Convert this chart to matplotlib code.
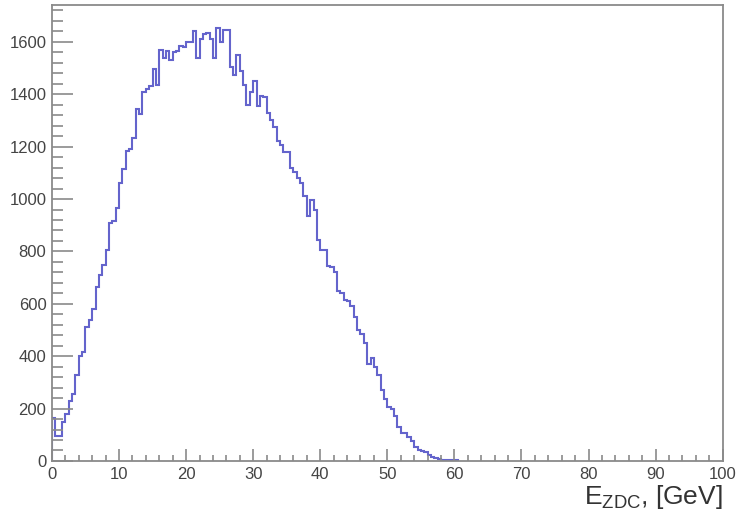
import numpy as np
import matplotlib.pyplot as plt
from matplotlib.ticker import MultipleLocator

plt.rcParams['font.family'] = ['Liberation Sans', 'DejaVu Sans']
plt.rcParams['mathtext.default'] = 'regular'

# ZDC energy spectrum, 0.5 GeV bins starting at 0
bin_width = 0.5
counts = [165, 95, 95, 150, 180, 230, 255, 330, 400, 415,
          510, 540, 580, 665, 710, 750, 805, 910, 915, 965,
          1060, 1115, 1185, 1190, 1235, 1345, 1325, 1410, 1420, 1430,
          1495, 1435, 1570, 1540, 1565, 1530, 1560, 1565, 1585, 1580,
          1600, 1600, 1640, 1540, 1610, 1630, 1635, 1610, 1540, 1655,
          1600, 1645, 1645, 1505, 1475, 1550, 1490, 1435, 1360, 1410,
          1450, 1355, 1395, 1390, 1330, 1300, 1275, 1220, 1205, 1180,
          1180, 1120, 1105, 1080, 1060, 1010, 935, 995, 960, 845,
          805, 805, 745, 740, 720, 650, 640, 615, 610, 590,
          550, 500, 485, 450, 370, 395, 360, 330, 270, 235,
          205, 200, 170, 130, 105, 105, 92, 75, 55, 42,
          38, 35, 22, 15, 10, 7, 5, 4, 3, 3,
          2]
edges = np.arange(len(counts) + 1) * bin_width

fig = plt.figure(figsize=(7.42, 5.25), dpi=100)
ax = fig.add_axes([0.070, 0.122, 0.904, 0.868])

ax.stairs(counts, edges, baseline=0, color='#6464cc', linewidth=1.5)

ax.set_xlim(0, 100)
ax.set_ylim(0, 1740)
ax.xaxis.set_major_locator(MultipleLocator(10))
ax.xaxis.set_minor_locator(MultipleLocator(2))
ax.yaxis.set_major_locator(MultipleLocator(200))
ax.yaxis.set_minor_locator(MultipleLocator(40))

for s in ax.spines.values():
    s.set_color('#8a8a8a')
    s.set_linewidth(1.3)

ax.tick_params(axis='x', which='major', direction='in', length=9, width=1.2,
               color='#8a8a8a', labelsize=12, labelcolor='#444444', pad=4)
ax.tick_params(axis='x', which='minor', direction='in', length=4.5, width=1.2,
               color='#8a8a8a')
ax.tick_params(axis='y', which='major', direction='in', length=15, width=1.2,
               color='#8a8a8a', labelsize=12, labelcolor='#444444', pad=4)
ax.tick_params(axis='y', which='minor', direction='in', length=8, width=1.2,
               color='#8a8a8a')

fig.text(0.974, 0.053, r'$E_{ZDC}$, [GeV]', ha='right', va='center',
         fontsize=19, color='#333333')

fig.savefig('out.png', dpi=100)
